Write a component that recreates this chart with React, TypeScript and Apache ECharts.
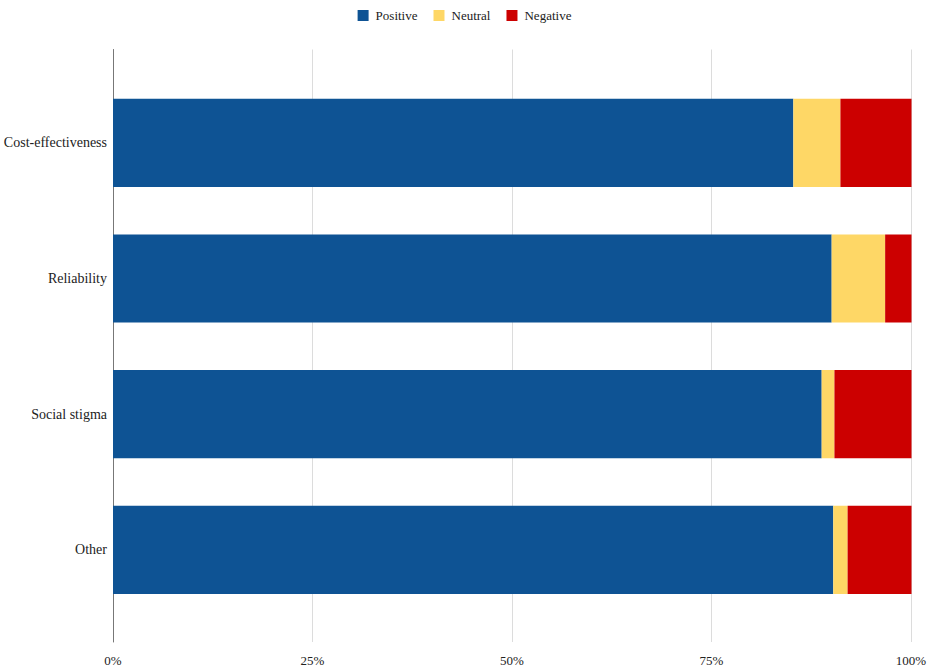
import React, { useEffect, useRef } from "react";
import * as echarts from "echarts";

const categories = ["Cost-effectiveness", "Reliability", "Social stigma", "Other"];
const positive = [85.2, 90.0, 88.75, 90.2];
const neutral = [5.9, 6.7, 1.6, 1.8];
const negative = [8.9, 3.3, 9.65, 8.0];
const xTicks = [0, 25, 50, 75, 100];

const FONT = "'Liberation Serif', 'Times New Roman', serif";

export default function App() {
  const ref = useRef<HTMLDivElement>(null);
  useEffect(() => {
    if (!ref.current) return;
    const chart = echarts.init(ref.current, null, { renderer: "svg" });
    chart.setOption({
      animation: false,
      textStyle: { fontFamily: FONT },
      legend: {
        top: 4,
        left: "center",
        itemWidth: 11,
        itemHeight: 11,
        itemGap: 16,
        icon: "rect",
        textStyle: { fontFamily: FONT, fontSize: 13, color: "#222", padding: [0, 0, 0, 2] },
        data: ["Positive", "Neutral", "Negative"],
      },
      grid: [
        { left: 113, right: 17.5, top: 49.5, bottom: 28, containLabel: false },
        { left: 113, right: 17.5, top: 75, bottom: 52.3, containLabel: false },
      ],
      xAxis: [
        {
          gridIndex: 0,
          type: "value",
          min: xTicks[0],
          max: xTicks[xTicks.length - 1],
          interval: 25,
          axisLine: { show: false },
          axisTick: { show: false },
          splitLine: { show: true, lineStyle: { color: "#dcdcdc", width: 1 } },
          axisLabel: {
            formatter: "{value}%",
            fontFamily: FONT,
            fontSize: 13,
            color: "#222",
            margin: 12,
          },
        },
        {
          gridIndex: 1,
          type: "value",
          min: 0,
          max: 100,
          show: false,
        },
      ],
      yAxis: [
        {
          gridIndex: 0,
          type: "value",
          min: 0,
          max: 1,
          axisLine: { show: true, onZero: false, lineStyle: { color: "#777", width: 1 } },
          axisTick: { show: false },
          axisLabel: { show: false },
          splitLine: { show: false },
        },
        {
          gridIndex: 1,
          type: "category",
          data: categories,
          inverse: true,
          axisLine: { show: false },
          axisTick: { show: false },
          splitLine: { show: false },
          axisLabel: {
            fontFamily: FONT,
            fontSize: 14,
            color: "#222",
            margin: 6,
          },
        },
      ],
      series: [
        {
          name: "Positive",
          type: "bar",
          stack: "total",
          xAxisIndex: 1,
          yAxisIndex: 1,
          barWidth: "65%",
          itemStyle: { color: "#0E5394" },
          data: positive,
        },
        {
          name: "Neutral",
          type: "bar",
          stack: "total",
          xAxisIndex: 1,
          yAxisIndex: 1,
          barWidth: "65%",
          itemStyle: { color: "#FED766" },
          data: neutral,
        },
        {
          name: "Negative",
          type: "bar",
          stack: "total",
          xAxisIndex: 1,
          yAxisIndex: 1,
          barWidth: "65%",
          itemStyle: { color: "#CC0000" },
          data: negative,
        },
      ],
    });
    return () => chart.dispose();
  }, []);
  return <div ref={ref} style={{ width: 929, height: 670, position: "absolute", left: 0, top: 0, background: "#fff" }} />;
}
